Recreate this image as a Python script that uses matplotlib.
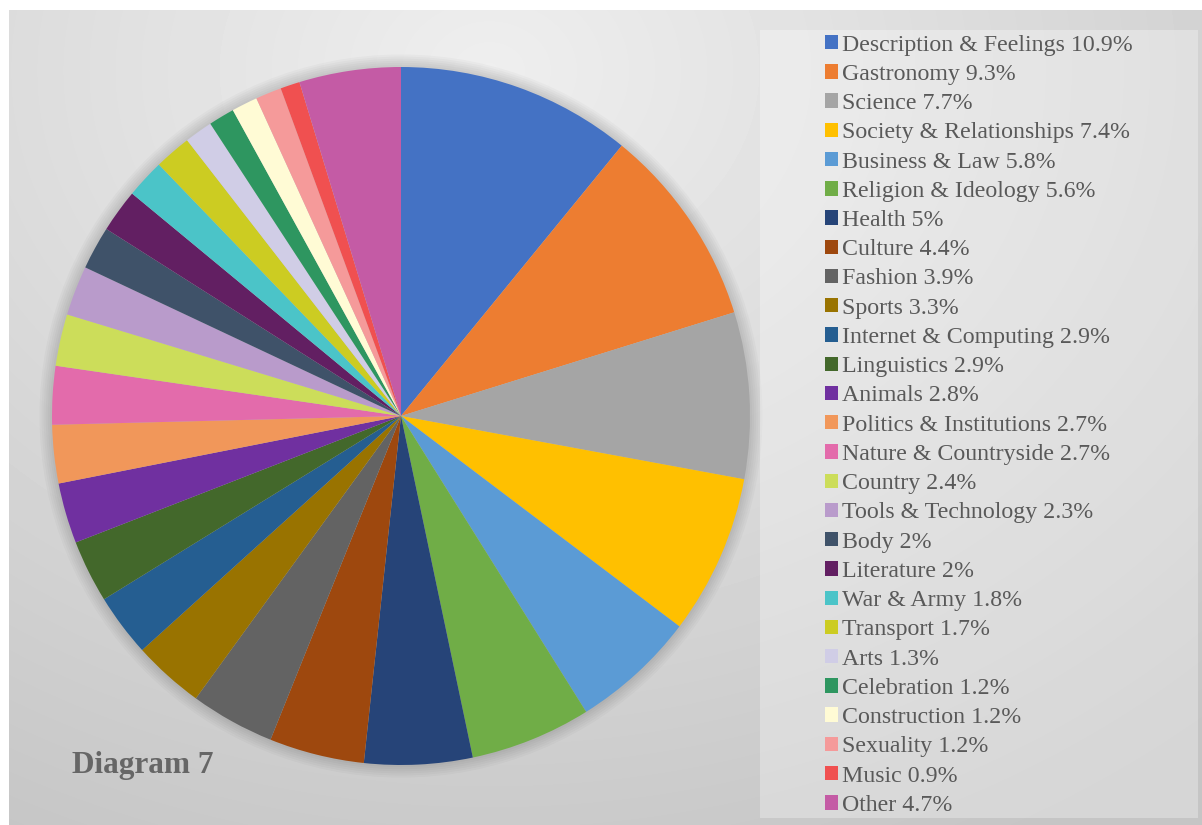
import numpy as np
import matplotlib.pyplot as plt
from matplotlib.patches import Rectangle, Patch, Circle

# Kategoriler ve yüzdeler
kategoriler = ["Description & Feelings", "Gastronomy", "Science", "Society & Relationships",
               "Business & Law", "Religion & Ideology", "Health", "Culture", "Fashion", "Sports",
               "Internet & Computing", "Linguistics", "Animals", "Politics & Institutions",
               "Nature & Countryside", "Country", "Tools & Technology", "Body", "Literature",
               "War & Army", "Transport", "Arts", "Celebration", "Construction", "Sexuality",
               "Music", "Other"]
yuzdeler = [10.9, 9.3, 7.7, 7.4, 5.8, 5.6, 5, 4.4, 3.9, 3.3, 2.9, 2.9, 2.8, 2.7, 2.7, 2.4,
            2.3, 2, 2, 1.8, 1.7, 1.3, 1.2, 1.2, 1.2, 0.9, 4.7]
renkler = ["#4472C4", "#ED7D31", "#A5A5A5", "#FFC000", "#5B9BD5", "#70AD47", "#264478",
           "#9E480E", "#636363", "#997300", "#255E91", "#43682B", "#7030A0", "#F1975A",
           "#E36BAB", "#CCDD5A", "#B99BCB", "#3F5269", "#621F62", "#4BC4C8", "#CCCC22",
           "#D0CDE6", "#2E9660", "#FFFBD5", "#F59A9A", "#F05050", "#C45BA5"]

W, H = 1202, 825
fig = plt.figure(figsize=(W / 100, H / 100), dpi=100)

# Arka plan gradyanı
bg = fig.add_axes([9 / W, 0, (W - 9) / W, 815 / H])
bg.set_axis_off()
yy, xx = np.mgrid[0:815, 0:1193]
d = np.sqrt(((xx - 480) / 1000.0) ** 2 + ((yy - 60) / 800.0) ** 2)
gri = np.clip(0.935 - 0.15 * d, 0.77, 0.94)
bg.imshow(gri, cmap="gray", vmin=0, vmax=1, aspect="auto", interpolation="bilinear")

# Lejant kutusu
fig.patches.append(Rectangle((760 / W, 7 / H), 438 / W, 788 / H, transform=fig.transFigure,
                             facecolor="white", alpha=0.3, edgecolor="none", zorder=1))

# Pasta grafik
r = 349
ax = fig.add_axes([(401 - r) / W, (409 - r) / H, 2 * r / W, 2 * r / H])
for k in range(6):
    ax.add_patch(Circle((0, 0), 1.0 + 0.006 * (k + 1), color="black", alpha=0.025, lw=0,
                        clip_on=False))
ax.pie(yuzdeler, colors=renkler, startangle=90, counterclock=False,
       wedgeprops=dict(linewidth=0))
ax.set_aspect("equal")
ax.set_axis_off()
ax.set_xlim(-1, 1)
ax.set_ylim(-1, 1)

# Lejant
etiketler = ["{} {}%".format(k, y) for k, y in zip(kategoriler, yuzdeler)]
tutamaklar = [Patch(facecolor=c, edgecolor="none") for c in renkler]
leg = fig.legend(tutamaklar, etiketler, loc="upper left", bbox_to_anchor=(815 / W, 1 - 25 / H),
                 frameon=False, handlelength=0.55, handleheight=0.55, handletextpad=0.2,
                 labelspacing=0.345, borderaxespad=0,
                 prop={"family": "Liberation Serif", "size": 17.2})
for t in leg.get_texts():
    t.set_color("#595959")

fig.text(72 / W, 1 - 766 / H, "Diagram 7", fontfamily="Liberation Serif", fontweight="bold",
         fontsize=22.5, color="#666666", va="center", ha="left")

fig.savefig("out.png", dpi=100)
